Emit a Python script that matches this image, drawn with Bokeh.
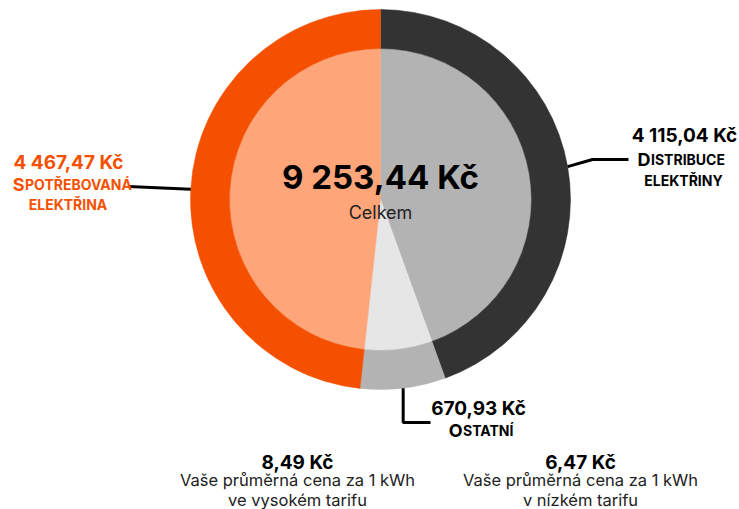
import math
from bokeh.plotting import figure
from bokeh.models import Range1d
from bokeh.embed import file_html
from bokeh.resources import INLINE
from bokeh.core.properties import value

# ---- data ----
categories = ["Distribuce elektřiny", "Ostatní", "Spotřebovaná elektřina"]
amounts = [4115.04, 670.93, 4467.47]
total_label = "Celkem"
currency = "Kč"
tariff_prices = [8.49, 6.47]
tariff_caption = "Vaše průměrná cena za 1 kWh"
tariff_texts = ["ve vysokém tarifu", "v nízkém tarifu"]

outer_colors = ["#333333", "#b3b3b3", "#f55000"]
inner_colors = ["#b3b3b3", "#e6e6e6", "#ffa57a"]
label_colors = ["#000000", "#000000", "#f55000"]

FONT = "Inter"
W, H = 739, 509
TEXT_SHIFT = 7


def fmt(v):
    s = f"{v:,.2f}".replace(",", " ").replace(".", ",")
    return f"{s} {currency}"


def Y(sy):
    return H - sy


p = figure(width=W, height=H, x_range=Range1d(0, W), y_range=Range1d(0, H),
           output_backend="svg", toolbar_location=None, min_border=0,
           x_axis_type=None, y_axis_type=None)
p.grid.visible = False
p.outline_line_color = None
p.background_fill_color = "white"
p.border_fill_color = "white"

# ---- pie / ring ----
cx, cy = 380, Y(199)
R_in, R_out = 151, 190
tot = sum(amounts)
starts, ends, mids = [], [], []
cum = 0.0
for a in amounts:
    t1 = cum / tot * 2 * math.pi
    cum += a
    t2 = cum / tot * 2 * math.pi
    starts.append(math.pi / 2 - t2)
    ends.append(math.pi / 2 - t1)
    mids.append((t1 + t2) / 2)

p.wedge(x=cx, y=cy, radius=R_in, start_angle=starts, end_angle=ends,
        fill_color=inner_colors, line_color=inner_colors, line_width=0.5)
p.annular_wedge(x=cx, y=cy, inner_radius=R_in, outer_radius=R_out,
                start_angle=starts, end_angle=ends,
                fill_color=outer_colors, line_color=outer_colors, line_width=0.5)

anchors = [(cx + R_out * math.sin(t), cy + R_out * math.cos(t)) for t in mids]

# connectors
ax, ay = anchors[0]
p.line([ax, 592, 628], [ay, Y(159), Y(159)], line_color="black", line_width=3)
ax, ay = anchors[1]
p.line([ax, ax, 430], [ay, Y(422), Y(422)], line_color="black", line_width=3)
ax, ay = anchors[2]
p.line([ax, 128], [ay, Y(186)], line_color="black", line_width=3)


def txt(x, y, s, size, color="black", bold=True, align="center"):
    p.text(x=[x], y=[Y(y - TEXT_SHIFT)], text=[s], text_font=value(FONT),
           text_font_size=size, text_font_style="bold" if bold else "normal",
           text_color=color, text_align=align, text_baseline="alphabetic")


def smallcaps(split_x, y, word, color, big="18px", small="14px"):
    txt(split_x, y, word[0].upper(), big, color, align="right")
    txt(split_x + 0.5, y, word[1:].upper(), small, color, align="left")


# center
txt(380, 183.5, fmt(tot), "33px")
txt(380, 218.5, total_label, "18px", "#222222", bold=False)

# Distribuce
txt(684, 141.5, fmt(amounts[0]), "19px", label_colors[0])
w1, w2 = categories[0].split(" ")
smallcaps(650, 165.5, w1, label_colors[0])
txt(683, 186.5, w2.upper(), "14px", label_colors[0])

# Ostatní
txt(478, 414.5, fmt(amounts[1]), "19px", label_colors[1])
smallcaps(462, 436.5, categories[1], label_colors[1])

# Spotřebovaná
txt(68, 168.5, fmt(amounts[2]), "19px", label_colors[2])
w1, w2 = categories[2].split(" ")
smallcaps(24, 190.5, w1, label_colors[2])
txt(67.5, 211, w2.upper(), "14px", label_colors[2])

# tariffs
for xc, price, t in zip([297, 580], tariff_prices, tariff_texts):
    txt(xc, 468.5, fmt(price), "19px")
    txt(xc, 486.5, tariff_caption, "16.5px", "#222222", bold=False)
    txt(xc, 506.5, t, "16.5px", "#222222", bold=False)

open("out.html", "w").write(file_html(p, INLINE))
